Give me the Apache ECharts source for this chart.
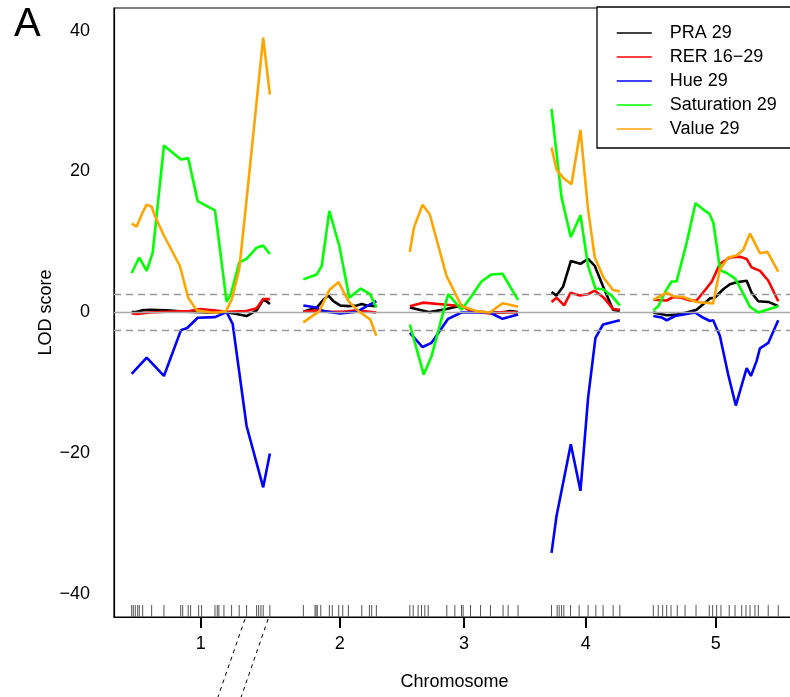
<!DOCTYPE html>
<html>
<head>
<meta charset="utf-8">
<script src="https://cdn.jsdelivr.net/npm/echarts@6/dist/echarts.min.js"></script>
<style>
  html, body { margin: 0; padding: 0; background: #fff; }
  #chart { width: 790px; height: 697px; }
</style>
</head>
<body>
<div id="chart"></div>
<script>
// Genome layout (cM)
const chromosomes = ['1', '2', '3', '4', '5'];
const chrLengths = [103.2, 54.5, 80.8, 51.0, 93.3];
const chrGap = 25;

// Marker positions per chromosome (cM)
const markerPos = [
  [0, 1.2, 2.7, 4.5, 5.7, 8.2, 14.9, 24.1, 36.6, 38.1, 42.2, 44.0, 50.0, 52.2, 62.2, 63.9, 65.1, 68.9, 74.6, 80.3, 85.8, 93.3, 94.8, 96.5, 98.2, 103.2],
  [0, 8.7, 9.5, 10.4, 13.0, 19.4, 21.6, 26.4, 29.4, 33.6, 43.6, 49.3, 51.0, 54.5],
  [0, 2.5, 6.2, 8.7, 11.2, 13.7, 27.6, 33.6, 38.6, 39.8, 45.3, 52.8, 60.2, 69.6, 73.4, 80.8],
  [0, 4.2, 5.7, 7.5, 9.2, 14.2, 20.6, 27.3, 33.1, 38.5, 46.0, 51.0],
  [0, 3.7, 7.0, 10.0, 13.2, 17.9, 23.7, 31.9, 41.8, 44.3, 47.3, 50.5, 56.7, 61.0, 66.0, 69.2, 72.2, 75.9, 78.4, 85.8, 93.3]
];

// LOD profiles: [chromosome, position (cM), LOD]
const praLod = [
  [1,0,0.05],[1,3.7,0.1],[1,7.5,0.3],[1,13.7,0.4],[1,26.1,0.3],[1,41.0,0.1],[1,58.4,0],[1,70.9,0.05],[1,78.4,-0.2],[1,85.8,-0.5],[1,93.3,0.3],[1,98.2,1.8],[1,100.7,1.6],[1,103.2,1.2],
  [2,0,0.1],[2,10.0,0.7],[2,14.9,1.8],[2,18.7,2.4],[2,22.4,1.6],[2,27.4,1.0],[2,33.7,0.9],[2,39.9,1.0],[2,43.7,1.2],[2,47.4,1.0],[2,54.5,0.9],
  [3,0,0.7],[3,14.9,0.05],[3,27.4,0.5],[3,38.6,1.0],[3,46.0,0.2],[3,59.7,0],[3,69.2,0],[3,74.6,0.2],[3,80.8,0.05],
  [4,0,2.9],[4,3.7,2.4],[4,8.7,3.7],[4,14.4,7.3],[4,21.6,6.9],[4,27.3,7.6],[4,32.3,6.6],[4,38.5,3.7],[4,45.9,0.4],[4,51.0,0.2],
  [5,0,0],[5,10.0,-0.4],[5,17.4,-0.3],[5,24.9,0],[5,32.3,0.4],[5,42.3,2.0],[5,46.0,2.1],[5,52.2,3.3],[5,57.2,4.0],[5,62.2,4.3],[5,69.7,4.5],[5,73.4,2.8],[5,78.4,1.6],[5,85.9,1.5],[5,93.3,0.9]
];
const rerLod = [
  [1,0,-0.1],[1,3.7,-0.2],[1,13.7,0],[1,26.1,0.1],[1,43.5,0.2],[1,51.0,0.5],[1,60.9,0.3],[1,70.9,0.1],[1,85.8,0.2],[1,93.3,0.6],[1,98.2,1.9],[1,103.2,1.9],
  [2,0,0.1],[2,10.0,0.3],[2,19.9,0.1],[2,29.9,0.1],[2,39.9,0.3],[2,54.5,0],
  [3,0,0.9],[3,9.9,1.4],[3,27.4,1.1],[3,38.6,0.9],[3,46.0,0.2],[3,59.7,-0.15],[3,69.2,0.05],[3,80.8,0],
  [4,0,1.5],[4,3.7,2.1],[4,9.4,1.0],[4,14.2,2.8],[4,21.1,2.4],[4,27.3,2.6],[4,32.3,3.1],[4,39.0,2.1],[4,45.9,0.5],[4,51.0,0.4],
  [5,0,1.8],[5,10.0,1.7],[5,14.9,2.2],[5,21.1,2.1],[5,27.3,1.7],[5,32.3,1.7],[5,38.7,3.2],[5,43.7,4.4],[5,49.7,6.9],[5,57.2,7.8],[5,64.7,7.9],[5,69.7,7.6],[5,73.4,6.4],[5,79.7,5.9],[5,85.9,4.5],[5,93.3,1.6]
];
const hueLod = [
  [1,0,-8.7],[1,11.2,-6.4],[1,24.1,-9.0],[1,36.8,-2.5],[1,41.5,-2.2],[1,49.3,-0.75],[1,62.2,-0.66],[1,70.9,0.05],[1,75.4,-1.6],[1,85.8,-16.1],[1,98.2,-24.8],[1,103.2,-20.0],
  [2,0,1.0],[2,10.0,0.7],[2,14.9,0.2],[2,27.4,-0.15],[2,39.9,0.1],[2,47.4,0.9],[2,54.5,1.6],
  [3,0,-2.9],[3,9.5,-4.9],[3,16.2,-4.3],[3,28.6,-0.9],[3,38.6,0],[3,49.8,0],[3,59.7,0],[3,69.2,-0.9],[3,80.8,-0.3],
  [4,0,-34.1],[4,3.7,-28.9],[4,14.4,-18.7],[4,21.6,-25.3],[4,27.3,-12.1],[4,32.8,-3.6],[4,38.5,-1.7],[4,51.0,-1.1],
  [5,0,-0.5],[5,6.2,-0.7],[5,10.0,-1.1],[5,16.2,-0.5],[5,31.1,0],[5,37.4,-0.75],[5,42.3,-1.2],[5,44.7,-1.1],[5,49.7,-3.3],[5,55.9,-8.8],[5,61.6,-13.2],[5,69.7,-7.9],[5,72.9,-9.0],[5,77.1,-6.9],[5,79.6,-5.1],[5,85.9,-4.3],[5,93.3,-1.1]
];
const saturationLod = [
  [1,0,5.6],[1,5.7,7.8],[1,11.2,5.9],[1,15.7,8.5],[1,24.1,23.7],[1,36.8,21.7],[1,42.2,21.9],[1,49.3,15.8],[1,62.2,14.5],[1,70.9,1.5],[1,74.1,2.6],[1,80.3,7.1],[1,85.8,7.6],[1,93.3,9.2],[1,98.2,9.5],[1,103.2,8.3],
  [2,0,4.7],[2,10.0,5.4],[2,13.7,6.6],[2,19.4,14.4],[2,26.9,9.4],[2,34.3,2.1],[2,42.8,3.4],[2,49.8,2.6],[2,54.5,0.7],
  [3,0,-1.7],[3,10.4,-8.8],[3,16.2,-6.2],[3,28.6,2.6],[3,38.6,0.4],[3,46.0,2.3],[3,53.5,4.4],[3,61.0,5.4],[3,69.2,5.5],[3,80.8,1.8],
  [4,0,28.9],[4,7.5,16.3],[4,14.4,10.7],[4,21.6,13.8],[4,27.3,6.6],[4,32.8,3.4],[4,38.5,3.3],[4,44.8,2.4],[4,51.0,1.0],
  [5,0,0.3],[5,3.7,0.9],[5,10.0,3.3],[5,13.7,4.4],[5,17.4,4.4],[5,24.9,9.9],[5,31.5,15.5],[5,37.4,14.6],[5,41.9,14.0],[5,44.9,12.7],[5,49.9,6.0],[5,54.9,5.6],[5,61.1,4.8],[5,66.3,3.0],[5,72.2,0.8],[5,78.4,0.0],[5,93.3,0.9]
];
const valueLod = [
  [1,0,12.6],[1,3.7,12.2],[1,8.2,14.2],[1,11.2,15.3],[1,14.9,15.0],[1,17.4,13.7],[1,23.6,11.1],[1,36.0,6.6],[1,42.2,2.1],[1,48.5,0.3],[1,58.4,0.04],[1,64.6,0],[1,70.4,0.2],[1,74.6,1.8],[1,80.3,6.1],[1,85.8,16.0],[1,92.0,27.5],[1,98.2,39.0],[1,103.2,30.9],
  [2,0,-1.4],[2,11.9,0.2],[2,19.4,3.2],[2,26.2,4.3],[2,33.7,1.6],[2,41.2,0.2],[2,49.9,-1.0],[2,54.5,-3.3],
  [3,0,8.6],[3,3.0,12.0],[3,9.5,15.3],[3,14.9,13.9],[3,27.4,5.2],[3,38.6,0.9],[3,49.8,0.2],[3,59.7,0],[3,69.2,1.3],[3,74.6,1.1],[3,80.8,0.8],
  [4,0,23.4],[4,3.7,20.3],[4,8.7,19.1],[4,14.9,18.2],[4,21.6,25.9],[4,27.3,14.6],[4,32.3,7.8],[4,39.0,4.9],[4,45.9,3.2],[4,51.0,3.0],
  [5,0,1.8],[5,10.0,2.8],[5,14.9,2.3],[5,22.4,2.2],[5,32.3,1.5],[5,44.7,1.3],[5,49.7,6.1],[5,55.9,7.8],[5,62.2,8.1],[5,67.2,8.9],[5,72.2,11.2],[5,79.7,8.4],[5,85.2,8.6],[5,93.3,5.8]
];

const traitNames = ['PRA 29', 'RER 16\u221229', 'Hue 29', 'Saturation 29', 'Value 29'];
const traitProfiles = [praLod, rerLod, hueLod, saturationLod, valueLod];
const traitColors = ['#000000', '#ff0000', '#0000ff', '#00ff00', '#ffa500'];

const yTicks = [-40, -20, 0, 20, 40];
const lodThreshold = 2.55;
// chromosome 1 interval expanded in the detail panel (cM)
const detailWindow = [84.6, 101.9];

// ---- layout helpers ----
const FONT = 'Liberation Sans, Arial, Helvetica, sans-serif';
const chrOffsets = [];
let acc = 0;
chrLengths.forEach(len => { chrOffsets.push(acc); acc += len + chrGap; });
const genomeEnd = acc - chrGap;
const xMin = -13.2;
const xMax = genomeEnd + chrGap / 2;
const chrCenters = chrOffsets.map((o, i) => o + chrLengths[i] / 2);
const yMin = -43.2, yMax = 43.2;

function toSeriesData(rows) {
  const out = [];
  let prev = null;
  rows.forEach(([c, p, v]) => {
    if (prev !== null && c !== prev) {
      out.push([chrOffsets[prev - 1] + chrLengths[prev - 1] + chrGap / 2, '-']);
    }
    out.push([chrOffsets[c - 1] + p, v]);
    prev = c;
  });
  return out;
}

const rugData = [];
markerPos.forEach((list, i) => list.forEach(p => rugData.push([chrOffsets[i] + p, yMin])));

const minus = s => String(s).replace('-', '\u2212');

const chart = echarts.init(document.getElementById('chart'), null, { renderer: 'canvas' });

const series = [
  {
    type: 'custom',
    name: 'markers',
    data: rugData,
    encode: { x: 0, y: 1 },
    clip: false,
    silent: true,
    z: 1,
    renderItem: (params, api) => {
      const p = api.coord([api.value(0), api.value(1)]);
      return {
        type: 'line',
        shape: { x1: p[0], y1: p[1], x2: p[0], y2: p[1] - 12 },
        style: { stroke: '#555', lineWidth: 1 }
      };
    },
    markLine: {
      silent: true,
      symbol: 'none',
      label: { show: false },
      animation: false,
      data: [
        { yAxis: 0, lineStyle: { color: '#aaaaaa', type: 'solid', width: 1.3 } },
        { yAxis: lodThreshold, lineStyle: { color: '#999999', type: [7, 5], width: 1.3 } },
        { yAxis: -lodThreshold, lineStyle: { color: '#999999', type: [7, 5], width: 1.3 } }
      ]
    }
  }
];
traitNames.forEach((name, i) => {
  series.push({
    type: 'line',
    name: name,
    data: toSeriesData(traitProfiles[i]),
    symbol: 'none',
    connectNulls: false,
    z: 2 + i,
    lineStyle: { color: traitColors[i], width: 2.6 },
    itemStyle: { color: traitColors[i] }
  });
});

chart.setOption({
  animation: false,
  textStyle: { fontFamily: FONT },
  grid: {
    left: 114, top: 8, width: 681, height: 609,
    show: true, borderColor: '#000', borderWidth: 1.2,
    containLabel: false, outerBoundsMode: 'none'
  },
  legend: {
    orient: 'vertical',
    left: 597, top: 7,
    padding: [17, 60, 10, 19],
    itemWidth: 35, itemHeight: 14, itemGap: 6,
    borderColor: '#000', borderWidth: 1.3,
    backgroundColor: '#fff',
    data: traitNames,
    lineStyle: { width: 1.5 },
    itemStyle: { opacity: 0, borderWidth: 0 },
    textStyle: { fontSize: 18, color: '#000', fontFamily: FONT, padding: [0, 0, 0, 13], lineHeight: 14 }
  },
  xAxis: {
    type: 'value',
    min: xMin, max: xMax,
    name: 'Chromosome',
    nameLocation: 'middle',
    nameGap: 56,
    nameMoveOverlap: false,
    nameTextStyle: { fontSize: 18, color: '#000', fontFamily: FONT },
    axisLine: { show: true, onZero: false, lineStyle: { color: '#000', width: 1.2 } },
    axisTick: { show: true, customValues: chrCenters, length: 11, lineStyle: { color: '#000', width: 2 } },
    axisLabel: {
      customValues: chrCenters, margin: 18, fontSize: 18, color: '#000', fontFamily: FONT,
      formatter: v => {
        let best = 0;
        chrCenters.forEach((c, i) => { if (Math.abs(c - v) < Math.abs(chrCenters[best] - v)) best = i; });
        return chromosomes[best];
      }
    },
    splitLine: { show: false }
  },
  yAxis: {
    type: 'value',
    min: yMin, max: yMax,
    name: 'LOD score',
    nameLocation: 'middle',
    nameGap: 59,
    nameMoveOverlap: false,
    nameRotate: 90,
    nameTextStyle: { fontSize: 18, color: '#000', fontFamily: FONT },
    axisLine: { show: true, onZero: false, lineStyle: { color: '#000', width: 1.2 } },
    axisTick: { show: false },
    axisLabel: { customValues: yTicks, margin: 24, fontSize: 18, color: '#000', fontFamily: FONT, formatter: v => minus(v) },
    splitLine: { show: false }
  },
  series: series
});

// panel letter and connector lines toward the detail panel
const graphics = [{
  type: 'text', left: 14, top: 5,
  style: { text: 'A', fontSize: 40, fill: '#000', fontFamily: FONT }
}];
detailWindow.forEach(p => {
  const pt = chart.convertToPixel({ xAxisIndex: 0, yAxisIndex: 0 }, [chrOffsets[0] + p, yMin]);
  graphics.push({
    type: 'line',
    shape: { x1: pt[0], y1: pt[1] + 2, x2: pt[0] - 27, y2: pt[1] + 80 },
    style: { stroke: '#000', lineWidth: 1, lineDash: [4, 4] },
    silent: true
  });
});
chart.setOption({ graphic: graphics });
</script>
</body>
</html>
